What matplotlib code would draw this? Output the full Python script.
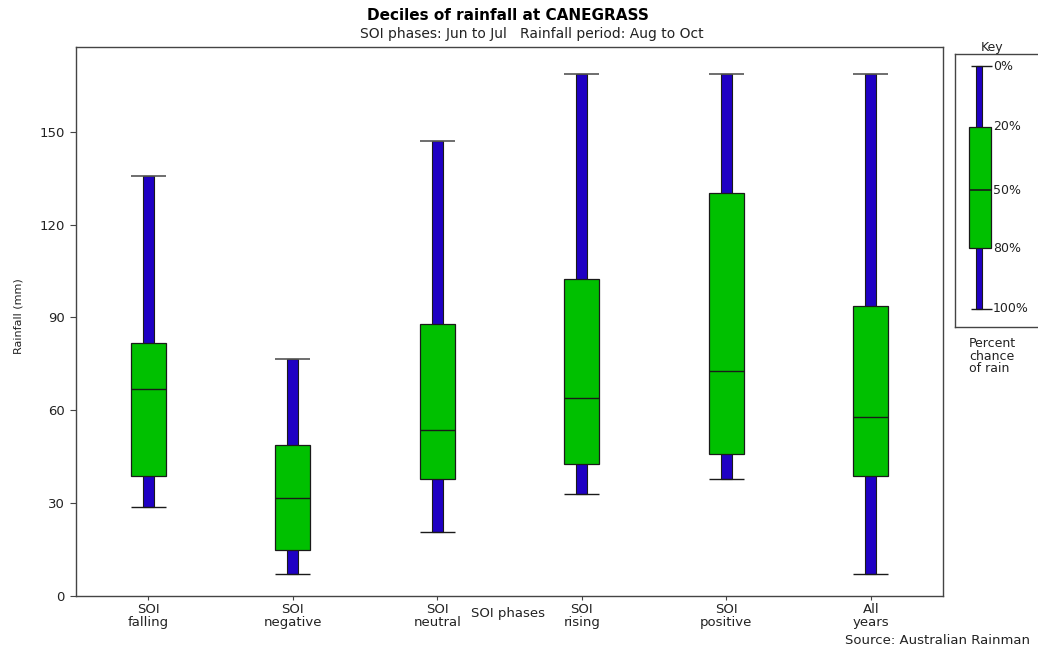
import matplotlib

matplotlib.use("Agg")
import matplotlib.pyplot as plt

plt.rcParams["font.family"] = ["DejaVu Sans"]

# Rainfall deciles (mm) for each SOI phase, Aug to Oct
phases = ["SOI\nfalling", "SOI\nnegative", "SOI\nneutral", "SOI\nrising", "SOI\npositive", "All\nyears"]
rain_min = [28.7, 7.1, 20.8, 32.9, 37.7, 7.1]
rain_p20 = [38.8, 14.8, 37.7, 42.7, 45.8, 38.7]
rain_median = [66.9, 31.7, 53.7, 64.0, 72.8, 57.9]
rain_p80 = [81.9, 48.8, 87.9, 102.5, 130.3, 93.7]
rain_max = [135.7, 76.6, 146.9, 168.7, 168.7, 168.7]
y_ticks = [0, 30, 60, 90, 120, 150]

key_labels = ["0%", "20%", "50%", "80%", "100%"]

BLUE = "#1f00c4"
GREEN = "#00c000"
EDGE = "#1a1a1a"
CAP = "#555555"
TEXT = "#222222"

W, H = 1038, 648
fig = plt.figure(figsize=(W / 100, H / 100), dpi=100)
fig.patch.set_facecolor("white")


def px_box(x0, y0, x1, y1):
    return [x0 / W, 1 - y1 / H, (x1 - x0) / W, (y1 - y0) / H]


ax = fig.add_axes(px_box(76, 47, 943, 596))
x = list(range(len(phases)))
box_w = 0.245
bar_w = 0.078

# whisker shaft from min to max, then the 20-80% box over it
ax.bar(x, [hi - lo for lo, hi in zip(rain_min, rain_max)], bottom=rain_min,
       width=bar_w, color=BLUE, edgecolor=EDGE, lw=0.8, zorder=2)
ax.bar(x, [hi - lo for lo, hi in zip(rain_p20, rain_p80)], bottom=rain_p20,
       width=box_w, color=GREEN, edgecolor=EDGE, lw=0.9, zorder=3)
ax.hlines(rain_median, [i - box_w / 2 for i in x], [i + box_w / 2 for i in x],
          color=EDGE, lw=1.0, zorder=4)
ax.hlines(rain_max, [i - box_w / 2 for i in x], [i + box_w / 2 for i in x],
          color=CAP, lw=1.2, zorder=4)
ax.hlines(rain_min, [i - box_w / 2 for i in x], [i + box_w / 2 for i in x],
          color=EDGE, lw=1.0, zorder=4)

ax.set_xlim(-0.5, len(phases) - 0.5)
ax.set_ylim(0, 177.4)
ax.set_yticks(y_ticks)
ax.set_xticks(x)
ax.set_xticklabels(phases, fontsize=9.5, color=TEXT, linespacing=1.0)
ax.tick_params(axis="y", labelsize=9.5, labelcolor=TEXT, length=4, width=0.8, color="#444444", pad=4)
ax.tick_params(axis="x", length=3, width=0.8, color="#444444", pad=2)
for s in ax.spines.values():
    s.set_color("#444444")
    s.set_linewidth(1.0)

ax.set_ylabel("Rainfall (mm)", fontsize=8, color=TEXT)
ax.yaxis.set_label_coords(-0.06, 0.51)
fig.text(508 / W, 1 - 613 / H, "SOI phases", ha="center", va="center", fontsize=9.5, color=TEXT)

fig.text(508 / W, 1 - 16 / H, "Deciles of rainfall at CANEGRASS", ha="center", va="center",
         fontsize=11, fontweight="bold", color="black")
fig.text(532 / W, 1 - 34 / H, "SOI phases: Jun to Jul   Rainfall period: Aug to Oct",
         ha="center", va="center", fontsize=10, color=TEXT)
fig.text(845 / W, 1 - 641 / H, "Source: Australian Rainman", ha="left", va="center",
         fontsize=9.5, color=TEXT)

# Key panel on the right
kax = fig.add_axes(px_box(955, 54, 1048, 327))
kax.set_xlim(955, 1048)
kax.set_ylim(327, 54)
kax.set_xticks([])
kax.set_yticks([])
for s in kax.spines.values():
    s.set_color("#444444")
    s.set_linewidth(1.0)
key_y = [66, 127, 190, 248, 309]
kax.bar([979], [key_y[4] - key_y[0]], bottom=key_y[0], width=6, color=BLUE,
        edgecolor=EDGE, lw=0.8, zorder=2)
kax.bar([979.8], [key_y[3] - key_y[1]], bottom=key_y[1], width=21.5, color=GREEN,
        edgecolor=EDGE, lw=0.9, zorder=3)
kax.hlines([key_y[2]], 969, 990.6, color=EDGE, lw=1.2, zorder=4)
kax.hlines([key_y[0], key_y[4]], 971, 992, color=EDGE, lw=1.0, zorder=4)
for yk, lab in zip(key_y, key_labels):
    kax.text(993, yk, lab, ha="left", va="center", fontsize=9, color=TEXT)

fig.text(992 / W, 1 - 47 / H, "Key", ha="center", va="center", fontsize=9, color=TEXT)
fig.text(969 / W, 1 - 356 / H, "Percent\nchance\nof rain", ha="left", va="center",
         fontsize=9, color=TEXT, linespacing=0.95)

fig.savefig("out.png", dpi=100)
